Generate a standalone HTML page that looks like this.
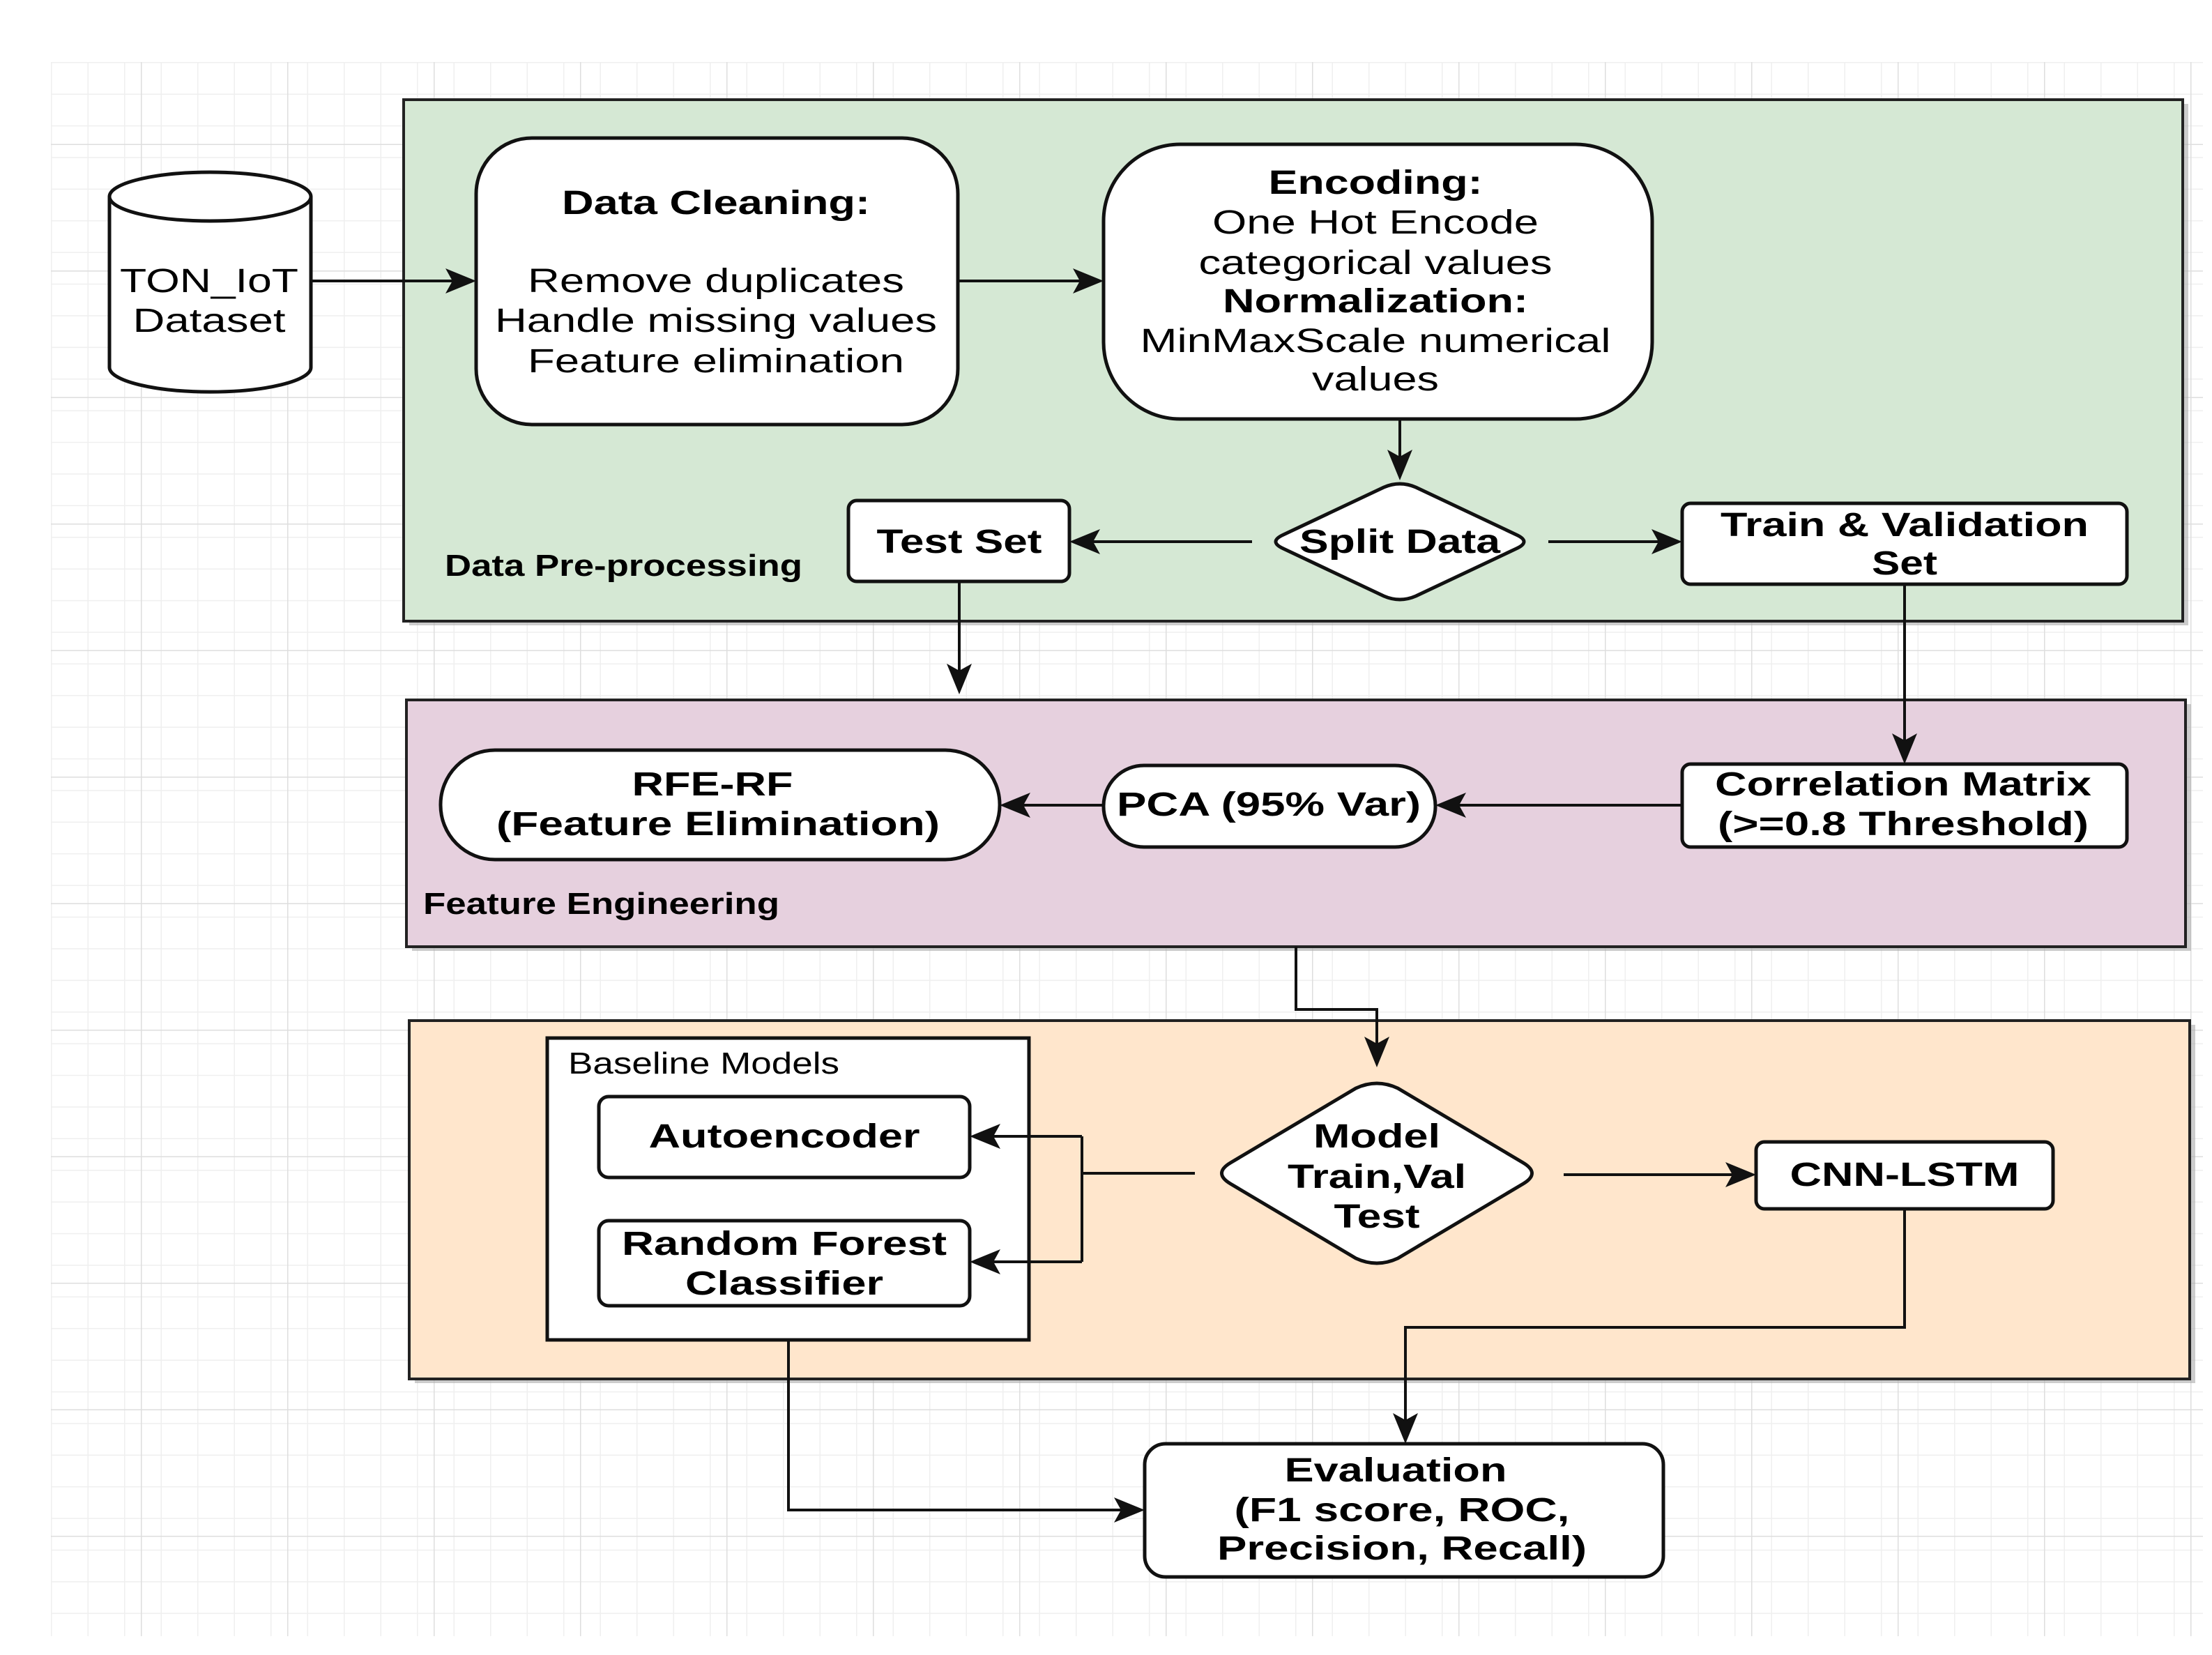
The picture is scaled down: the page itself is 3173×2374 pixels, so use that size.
<!DOCTYPE html>
<html><head><meta charset="utf-8"><style>
html,body{margin:0;padding:0;background:#fff;}
svg{display:block;}
text{font-family:"Liberation Sans",Arial,sans-serif;fill:#000;}
.b{font-weight:bold;}
</style></head><body>
<svg width="3173" height="2374" viewBox="0 0 3173 2374" xmlns="http://www.w3.org/2000/svg">
<defs>
<pattern id="minor" x="73" y="89" width="52.5" height="45.4" patternUnits="userSpaceOnUse">
<path d="M0 0V45.4M0 0H52.5" stroke="#efefef" stroke-width="3" fill="none"/>
</pattern>
<pattern id="major" x="-8" y="25" width="210" height="181.5" patternUnits="userSpaceOnUse">
<path d="M0 0V181.5M0 0H210" stroke="#dedede" stroke-width="3" fill="none"/>
</pattern>
<marker id="ar" markerWidth="10" markerHeight="10" refX="9" refY="5" orient="auto" markerUnits="userSpaceOnUse" viewBox="0 0 10 10">
</marker>
</defs>
<rect x="73" y="89" width="3087" height="2258" fill="url(#minor)"/>
<rect x="73" y="89" width="3087" height="2258" fill="url(#major)"/>

<!-- Containers -->
<rect x="587" y="149" width="2552" height="748" fill="#aaa" opacity="0.6"/>
<rect x="579" y="143" width="2552" height="748" fill="#d5e8d4" stroke="#222" stroke-width="4"/>
<rect x="591" y="1010" width="2552" height="354" fill="#aaa" opacity="0.6"/>
<rect x="583" y="1004" width="2552" height="354" fill="#e6d0de" stroke="#222" stroke-width="4"/>
<rect x="595" y="1470" width="2554" height="514" fill="#aaa" opacity="0.6"/>
<rect x="587" y="1464" width="2554" height="514" fill="#ffe6cc" stroke="#222" stroke-width="4"/>

<!-- Cylinder -->
<path d="M157 282 V527 A144 35 0 0 0 446 527 V282" fill="#fff" stroke="#111" stroke-width="5"/>
<ellipse cx="301.5" cy="282" rx="144.5" ry="35" fill="#fff" stroke="#111" stroke-width="5"/>
<text x="300" y="419" font-size="48" text-anchor="middle" textLength="256" lengthAdjust="spacingAndGlyphs">TON_IoT</text>
<text x="300" y="476" font-size="48" text-anchor="middle" textLength="219" lengthAdjust="spacingAndGlyphs">Dataset</text>

<!-- Data cleaning -->
<rect x="683" y="198" width="691" height="411" rx="80" fill="#fff" stroke="#111" stroke-width="5"/>
<text class="b" x="1027" y="307" font-size="48" text-anchor="middle" textLength="442" lengthAdjust="spacingAndGlyphs">Data Cleaning:</text>
<text x="1027" y="419" font-size="48" text-anchor="middle" textLength="540" lengthAdjust="spacingAndGlyphs">Remove duplicates</text>
<text x="1027" y="476" font-size="48" text-anchor="middle" textLength="634" lengthAdjust="spacingAndGlyphs">Handle missing values</text>
<text x="1027" y="534" font-size="48" text-anchor="middle" textLength="540" lengthAdjust="spacingAndGlyphs">Feature elimination</text>

<!-- Encoding -->
<rect x="1583" y="207" width="787" height="394" rx="110" fill="#fff" stroke="#111" stroke-width="5"/>
<text class="b" x="1973" y="278" font-size="48" text-anchor="middle" textLength="307" lengthAdjust="spacingAndGlyphs">Encoding:</text>
<text x="1973" y="335" font-size="48" text-anchor="middle" textLength="468" lengthAdjust="spacingAndGlyphs">One Hot Encode</text>
<text x="1973" y="393" font-size="48" text-anchor="middle" textLength="507" lengthAdjust="spacingAndGlyphs">categorical values</text>
<text class="b" x="1973" y="448" font-size="48" text-anchor="middle" textLength="438" lengthAdjust="spacingAndGlyphs">Normalization:</text>
<text x="1973" y="505" font-size="48" text-anchor="middle" textLength="675" lengthAdjust="spacingAndGlyphs">MinMaxScale numerical</text>
<text x="1973" y="560" font-size="48" text-anchor="middle" textLength="182" lengthAdjust="spacingAndGlyphs">values</text>

<!-- Split diamond -->
<path d="M1985 699 Q2008 689 2031 699 L2175 767 Q2197 777 2175 787 L2031 855 Q2008 865 1985 855 L1841 787 Q1819 777 1841 767 Z" fill="#fff" stroke="#111" stroke-width="5"/>
<text class="b" x="2008" y="793" font-size="48" text-anchor="middle" textLength="288" lengthAdjust="spacingAndGlyphs">Split Data</text>

<!-- Test set -->
<rect x="1217" y="718" width="317" height="116" rx="12" fill="#fff" stroke="#111" stroke-width="5"/>
<text class="b" x="1376" y="793" font-size="48" text-anchor="middle" textLength="237" lengthAdjust="spacingAndGlyphs">Test Set</text>
<!-- Train -->
<rect x="2413" y="722" width="638" height="116" rx="12" fill="#fff" stroke="#111" stroke-width="5"/>
<text class="b" x="2732" y="769" font-size="48" text-anchor="middle" textLength="528" lengthAdjust="spacingAndGlyphs">Train &amp; Validation</text>
<text class="b" x="2732" y="824" font-size="48" text-anchor="middle" textLength="94" lengthAdjust="spacingAndGlyphs">Set</text>
<text class="b" x="638" y="826" font-size="44" textLength="513" lengthAdjust="spacingAndGlyphs">Data Pre-processing</text>

<!-- Feature engineering -->
<rect x="632" y="1076" width="802" height="157" rx="78" fill="#fff" stroke="#111" stroke-width="5"/>
<text class="b" x="1022" y="1141" font-size="48" text-anchor="middle" textLength="231" lengthAdjust="spacingAndGlyphs">RFE-RF</text>
<text class="b" x="1030" y="1198" font-size="48" text-anchor="middle" textLength="636" lengthAdjust="spacingAndGlyphs">(Feature Elimination)</text>
<rect x="1583" y="1098" width="476" height="117" rx="58" fill="#fff" stroke="#111" stroke-width="5"/>
<text class="b" x="1820" y="1170" font-size="48" text-anchor="middle" textLength="436" lengthAdjust="spacingAndGlyphs">PCA (95% Var)</text>
<rect x="2413" y="1096" width="638" height="119" rx="12" fill="#fff" stroke="#111" stroke-width="5"/>
<text class="b" x="2730" y="1141" font-size="48" text-anchor="middle" textLength="540" lengthAdjust="spacingAndGlyphs">Correlation Matrix</text>
<text class="b" x="2730" y="1198" font-size="48" text-anchor="middle" textLength="532" lengthAdjust="spacingAndGlyphs">(&gt;=0.8 Threshold)</text>
<text class="b" x="607" y="1311" font-size="44" textLength="511" lengthAdjust="spacingAndGlyphs">Feature Engineering</text>

<!-- Models -->
<rect x="785" y="1489" width="691" height="433" fill="#fff" stroke="#111" stroke-width="5"/>
<text x="815" y="1540" font-size="44" textLength="389" lengthAdjust="spacingAndGlyphs">Baseline Models</text>
<rect x="859" y="1573" width="532" height="116" rx="14" fill="#fff" stroke="#111" stroke-width="5"/>
<text class="b" x="1125" y="1646" font-size="48" text-anchor="middle" textLength="389" lengthAdjust="spacingAndGlyphs">Autoencoder</text>
<rect x="859" y="1751" width="532" height="122" rx="14" fill="#fff" stroke="#111" stroke-width="5"/>
<text class="b" x="1125" y="1800" font-size="48" text-anchor="middle" textLength="466" lengthAdjust="spacingAndGlyphs">Random Forest</text>
<text class="b" x="1125" y="1857" font-size="48" text-anchor="middle" textLength="284" lengthAdjust="spacingAndGlyphs">Classifier</text>

<path d="M1945 1561 Q1975 1547 2005 1561 L2185 1668 Q2210 1683 2185 1698 L2005 1805 Q1975 1819 1945 1805 L1765 1698 Q1740 1683 1765 1668 Z" fill="#fff" stroke="#111" stroke-width="5"/>
<text class="b" x="1975" y="1646" font-size="48" text-anchor="middle" textLength="182" lengthAdjust="spacingAndGlyphs">Model</text>
<text class="b" x="1975" y="1704" font-size="48" text-anchor="middle" textLength="256" lengthAdjust="spacingAndGlyphs">Train,Val</text>
<text class="b" x="1975" y="1761" font-size="48" text-anchor="middle" textLength="123" lengthAdjust="spacingAndGlyphs">Test</text>

<rect x="2519" y="1638" width="426" height="96" rx="12" fill="#fff" stroke="#111" stroke-width="5"/>
<text class="b" x="2732" y="1701" font-size="48" text-anchor="middle" textLength="329" lengthAdjust="spacingAndGlyphs">CNN-LSTM</text>

<rect x="1642" y="2071" width="744" height="191" rx="30" fill="#fff" stroke="#111" stroke-width="5"/>
<text class="b" x="2002" y="2125" font-size="48" text-anchor="middle" textLength="319" lengthAdjust="spacingAndGlyphs">Evaluation</text>
<text class="b" x="2011" y="2182" font-size="48" text-anchor="middle" textLength="481" lengthAdjust="spacingAndGlyphs">(F1 score, ROC,</text>
<text class="b" x="2011" y="2237" font-size="48" text-anchor="middle" textLength="530" lengthAdjust="spacingAndGlyphs">Precision, Recall)</text>

<!-- Connectors -->
<g stroke="#111" stroke-width="4" fill="none">
<path d="M446 403H660"/>
<path d="M1374 403H1560"/>
<path d="M2008 601V668"/>
<path d="M1796 777H1557"/>
<path d="M2221 777H2390"/>
<path d="M1376 834V973"/>
<path d="M2732 838V1073"/>
<path d="M2413 1155H2082"/>
<path d="M1583 1155H1457"/>
<path d="M1859 1358V1448H1975V1508"/>
<path d="M1714 1683H1552M1552 1630V1810M1552 1630H1414M1552 1810H1414"/>
<path d="M2243 1685H2496"/>
<path d="M2732 1734V1904H2016V2048"/>
<path d="M1131 1922V2166H1619"/>
</g>
<g fill="#111">
<path d="M683 403l-44 -18 10 18 -10 18z"/>
<path d="M1583 403l-44 -18 10 18 -10 18z"/>
<path d="M2008 689l-18 -44 18 10 18 -10z"/>
<path d="M1534 777l44 -18 -10 18 10 18z"/>
<path d="M2413 777l-44 -18 10 18 -10 18z"/>
<path d="M1376 996l-18 -44 18 10 18 -10z"/>
<path d="M2732 1096l-18 -44 18 10 18 -10z"/>
<path d="M2059 1155l44 -18 -10 18 10 18z"/>
<path d="M1434 1155l44 -18 -10 18 10 18z"/>
<path d="M1975 1531l-18 -44 18 10 18 -10z"/>
<path d="M1391 1630l44 -18 -10 18 10 18z"/>
<path d="M1391 1810l44 -18 -10 18 10 18z"/>
<path d="M2519 1685l-44 -18 10 18 -10 18z"/>
<path d="M2016 2071l-18 -44 18 10 18 -10z"/>
<path d="M1642 2166l-44 -18 10 18 -10 18z"/>
</g>
</svg>
</body></html>
